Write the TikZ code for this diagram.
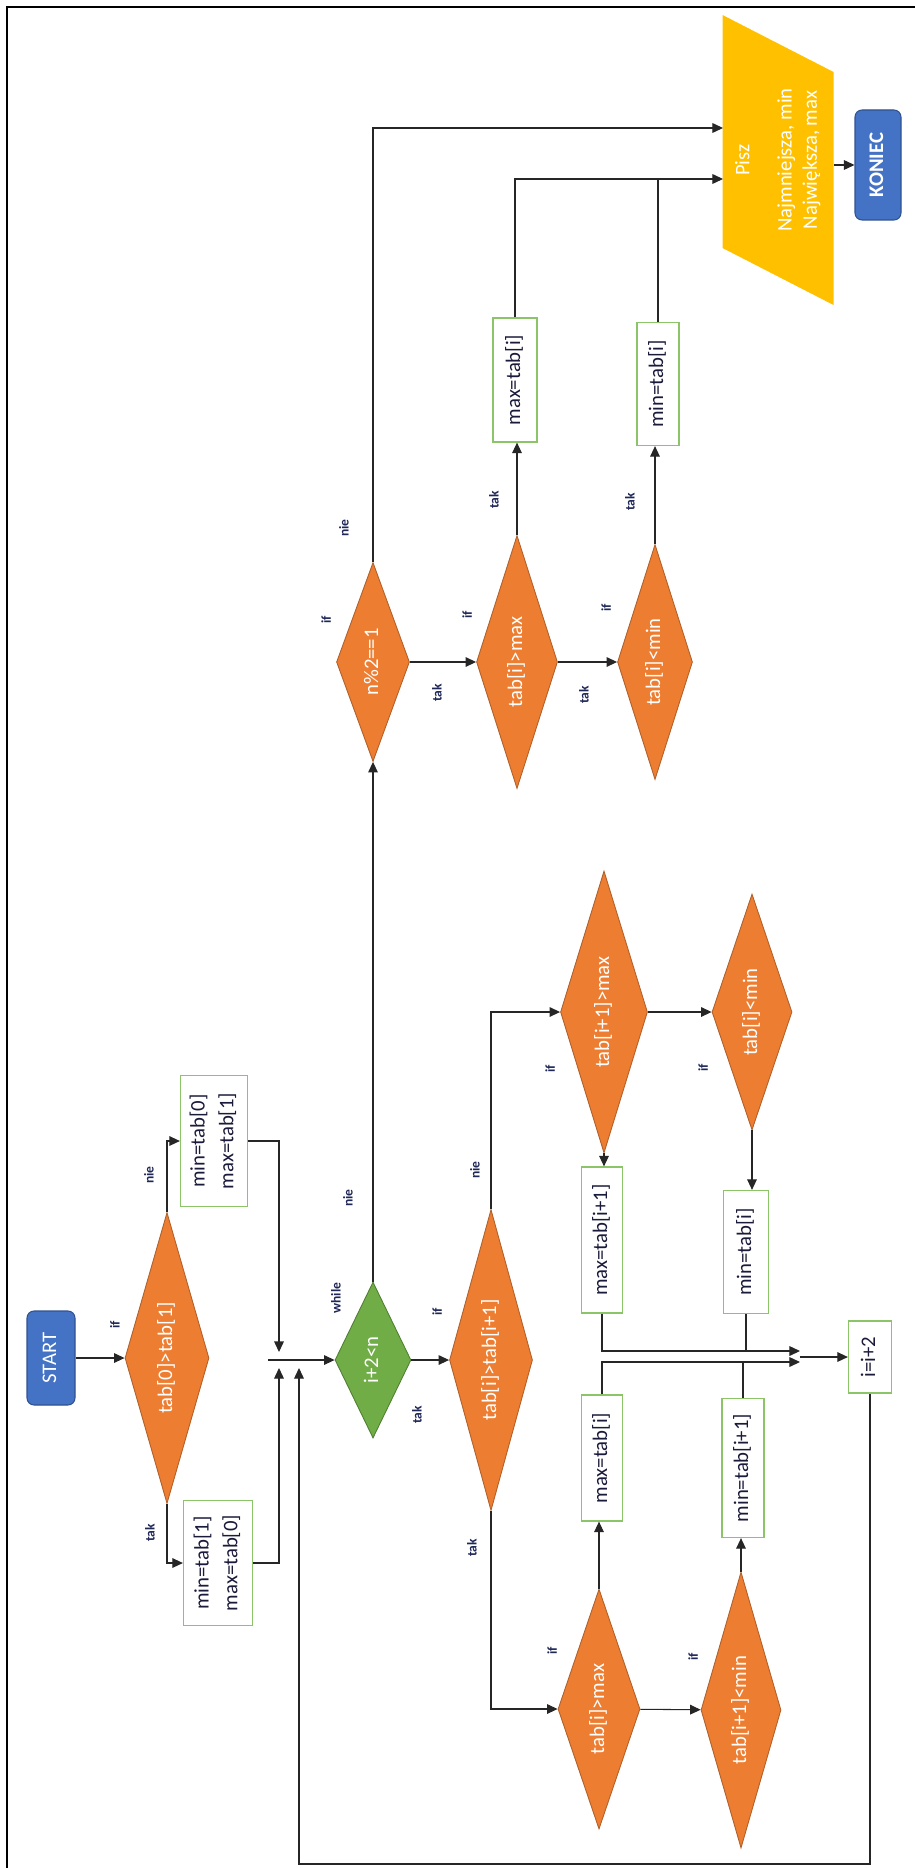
\documentclass[tikz,border=0pt]{standalone}
\usepackage{fontspec}
\setmainfont{Carlito}
\usepackage{graphicx}
\usetikzlibrary{arrows.meta, calc, shapes.geometric}
\definecolor{cDec}{HTML}{ED7D31}
\definecolor{cDecEdge}{HTML}{B0602A}
\definecolor{cLoop}{HTML}{70AD47}
\definecolor{cLoopEdge}{HTML}{507E32}
\definecolor{cTerm}{HTML}{4472C4}
\definecolor{cTermEdge}{HTML}{2F528F}
\definecolor{cOut}{HTML}{FFC000}
\definecolor{cBoxEdge}{HTML}{8CC46A}
\definecolor{cLbl}{HTML}{1F2757}
\definecolor{cTxt}{HTML}{1A1A3A}
\newcommand{\rtxt}[1]{\rotatebox{90}{\begin{tabular}{@{}c@{}}#1\end{tabular}}}
\tikzset{
    sz/.style 2 args={minimum width=#1*0.02cm, minimum height=#2*0.02cm},
    term/.style={draw=cTermEdge, fill=cTerm, rounded corners=4pt, text=white,
                 inner sep=0pt, line width=0.6pt},
    dec/.style={diamond, aspect=0.3, draw=cDecEdge, fill=cDec, text=white,
                inner sep=0pt, line width=0.5pt},
    loopdec/.style={dec, draw=cLoopEdge, fill=cLoop},
    proc/.style={draw=cBoxEdge, fill=white, text=cTxt, inner sep=0pt, line width=0.7pt},
    flow/.style={-{Triangle[length=6pt, width=5.5pt]}, line width=0.6pt, black!85},
    wire/.style={line width=0.6pt, black!85},
    lbl/.style={font=\fontsize{7.7}{9}\selectfont\bfseries, text=cLbl, rotate=90, inner sep=0pt},
}

\begin{document}
\begin{tikzpicture}[x=0.02cm, y=-0.02cm, font=\fontsize{11.8}{14.4}\selectfont]
\useasboundingbox (0,0) rectangle (915,1868);
\draw[line width=1.1pt] (7,1868) -- (7,7) -- (915,7);

% start and first comparison
\node[term, sz={48}{94}] (start) at (51,1358) {\rtxt{START}};
\node[dec, sz={84}{291}] (d1) at (167,1358) {\rtxt{tab[0]>tab[1]}};
\node[proc, sz={67}{131}] (bnie) at (214,1141) {\rtxt{min=tab[0]\\[2pt]max=tab[1]}};
\node[proc, sz={69}{125}] (btak) at (218,1563) {\rtxt{min=tab[1]\\[2pt]max=tab[0]}};

% loop body
\node[loopdec, sz={76}{156}] (whl) at (373,1360) {\rtxt{i+2<n}};
\node[dec, sz={83}{301}] (dcmp) at (491,1360) {\rtxt{tab[i]>tab[i+1]}};
\node[dec, sz={87}{282}] (dmax2) at (604,1012) {\rtxt{tab[i+1]>max}};
\node[dec, sz={80}{236}] (dmin2) at (752,1012) {\rtxt{tab[i]<min}};
\node[proc, sz={41}{146}] (bmax2) at (602,1240) {\rtxt{max=tab[i+1]}};
\node[proc, sz={45}{123}] (bmin2) at (746,1252) {\rtxt{min=tab[i]}};
\node[dec, sz={82}{240}] (dmax3) at (599,1709) {\rtxt{tab[i]>max}};
\node[dec, sz={80}{276}] (dmin3) at (741,1710) {\rtxt{tab[i+1]<min}};
\node[proc, sz={41}{126}] (bmax3) at (602,1458) {\rtxt{max=tab[i]}};
\node[proc, sz={42}{139}] (bmin3) at (743,1468) {\rtxt{min=tab[i+1]}};
\node[proc, sz={43}{72}] (inc) at (870,1357) {\rtxt{i=i+2}};

% odd n and output
\node[dec, sz={73}{199}] (dpar) at (373,662) {\rtxt{n\%2==1}};
\node[dec, sz={81}{253}] (dmax1) at (517,662) {\rtxt{tab[i]>max}};
\node[dec, sz={75}{235}] (dmin1) at (655,662) {\rtxt{tab[i]<min}};
\node[proc, sz={44}{124}] (bmax1) at (515,380) {\rtxt{max=tab[i]}};
\node[proc, sz={42}{123}] (bmin1) at (658,384) {\rtxt{min=tab[i]}};
\node[sz={111}{290}, inner sep=0pt, text=white,
      path picture={\fill[cOut] (path picture bounding box.north west)
        -- ($(path picture bounding box.north east)+(0,57)$)
        -- (path picture bounding box.south east)
        -- ($(path picture bounding box.south west)+(0,-57)$) -- cycle;}]
      (pisz) at (778,160) {\rtxt{Pisz\\[9.6pt]Najmniejsza, min\\Największa, max}};
\node[term, sz={46}{110}, font=\fontsize{11.8}{14.4}\selectfont\bfseries] (koniec) at (878,165) {\rtxt{KONIEC}};

\coordinate (mrg) at (268,1360);
\coordinate (mdn) at (279,1352);
\coordinate (mup) at (279,1368);
\coordinate (lpin) at (299,1368);
\coordinate (lpbot) at (299,1864);
\coordinate (jn) at (800,1357);
\coordinate (jna) at (800,1351);
\coordinate (jnb) at (800,1362);
\coordinate (pina) at (723,128);
\coordinate (pinb) at (723,179);

\draw[flow] (start) -- (d1);
\draw[flow] (d1.north) |- (bnie.west);
\draw[flow] (d1.south) |- (btak.west);
\draw[flow] (bnie.east) -| (mdn);
\draw[flow] (btak.east) -| (mup);
\draw[flow] (mrg) -- (whl);
\draw[flow] (whl) -- (dcmp);
\draw[flow] (whl.north) -- (dpar.south);

\draw[flow] (dcmp.north) |- (dmax2.west);
\draw[flow] (dcmp.south) |- (dmax3.west);
\draw[flow] (dmax2) -- (dmin2);
\draw[flow] (dmax3) -- (dmin3);
\draw[flow] (dmax2.south) -- (dmax2.south |- bmax2.north);
\draw[flow] (dmin2.south) -- (dmin2.south |- bmin2.north);
\draw[flow] (dmax3.north) -- (dmax3.north |- bmax3.south);
\draw[flow] (dmin3.north) -- (dmin3.north |- bmin3.south);
\draw[flow] (bmax2.south) |- (jna);
\draw[wire] (bmin2.south) -- (bmin2.south |- jna);
\draw[flow] (bmax3.north) |- (jnb);
\draw[wire] (bmin3.north) -- (bmin3.north |- jnb);
\draw[flow] (jn) -- (inc);
\draw[flow] (inc.south) |- (lpbot) -- (lpin);

\draw[flow] (dpar) -- (dmax1);
\draw[flow] (dmax1) -- (dmin1);
\draw[flow] (dmax1.north) -- (dmax1.north |- bmax1.south);
\draw[flow] (dmin1.north) -- (dmin1.north |- bmin1.south);
\draw[flow] (dpar.north) |- (pina);
\draw[flow] (bmax1.north) |- (pinb);
\draw[wire] (bmin1.north) -- (bmin1.north |- pinb);
\draw[flow] (pisz.east |- koniec) -- (koniec);

\foreach \x/\y/\t [count=\k] in {115/1325/if, 149/1175/nie, 150/1533/tak,
    336/1298/while, 348/1198/nie, 417/1415/tak,
    437/1312/if, 475/1170/nie, 472/1548/tak,
    550/1069/if, 703/1068/if, 552/1651/if, 693/1657/if,
    326/620/if, 344/528/nie, 437/693/tak,
    467/615/if, 584/695/tak, 606/608/if, 494/500/tak, 630/502/tak}{%
    \node[lbl] (lbl\k) at (\x,\y) {\t};
}
\end{tikzpicture}
\end{document}
